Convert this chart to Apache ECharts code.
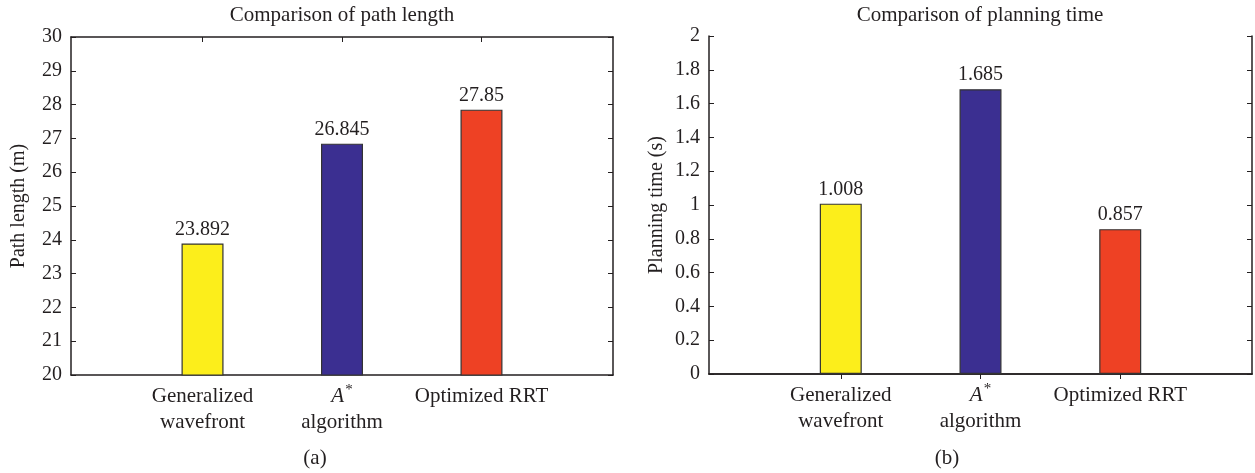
<!DOCTYPE html>
<html>
<head>
<meta charset="utf-8">
<script src="https://cdn.jsdelivr.net/npm/echarts@6/dist/echarts.min.js"></script>
<style>
  html, body { margin: 0; padding: 0; background: #fff; }
  #chart { width: 1255px; height: 473px; }
</style>
</head>
<body>
<div id="chart"></div>
<script>
// data
const categories = ['Generalized\nwavefront', 'A*\nalgorithm', 'Optimized RRT'];
const catPositions = [1, 2, 3];
const pathLength = [23.892, 26.845, 27.85];
const planningTime = [1.008, 1.685, 0.857];
const barColors = ['#fcee1b', '#3b2f91', '#ee4124'];

const FONT = '"Liberation Serif", "DejaVu Serif", serif';
const INK = '#231f20';
const xMin = 0.057, xMax = 3.943;

function catLabel(v) {
  const i = catPositions.indexOf(Math.round(v));
  if (i < 0) return '';
  const name = categories[i];
  if (name.indexOf('A*') === 0) {
    return '{it|A}{sup|*}\n{n|' + name.split('\n')[1] + '}';
  }
  return name.split('\n').map(s => '{n|' + s + '}').join('\n');
}

function barData(values) {
  return values.map((v, i) => ({
    value: [catPositions[i], v],
    itemStyle: { color: barColors[i] }
  }));
}

function xAxes(gridIndex) {
  return [
    {
      type: 'value', gridIndex, min: xMin, max: xMax, position: 'bottom',
      splitLine: { show: false },
      axisLine: { lineStyle: { color: INK, width: 1.5 } },
      axisTick: { inside: true, length: 5, customValues: catPositions, lineStyle: { color: INK } },
      axisLabel: {
        customValues: catPositions, formatter: catLabel, margin: 8,
        color: INK, fontFamily: FONT, fontSize: 21, lineHeight: 26,
        rich: {
          n: { color: INK, fontFamily: FONT, fontSize: 21, lineHeight: 26 },
          it: { color: INK, fontFamily: FONT, fontSize: 21, lineHeight: 26, fontStyle: 'italic' },
          sup: { color: INK, fontFamily: FONT, fontSize: 15, lineHeight: 26, verticalAlign: 'top', padding: [0, 0, 0, 1] }
        }
      }
    },
    {
      type: 'value', gridIndex, min: xMin, max: xMax, position: 'top',
      splitLine: { show: false },
      axisLine: { lineStyle: { color: INK, width: 1.5 } },
      axisTick: { inside: true, length: 5, customValues: catPositions, lineStyle: { color: INK } },
      axisLabel: { show: false }
    }
  ];
}

function yAxes(gridIndex, min, max, interval, name) {
  return [
    {
      type: 'value', gridIndex, min, max, interval, position: 'left',
      name, nameLocation: 'middle', nameGap: 42,
      nameTextStyle: { color: INK, fontFamily: FONT, fontSize: 20 },
      splitLine: { show: false },
      axisLine: { show: true, lineStyle: { color: INK, width: 1.5 } },
      axisTick: { inside: true, length: 5, lineStyle: { color: INK } },
      axisLabel: { color: INK, fontFamily: FONT, fontSize: 20, margin: 9 }
    },
    {
      type: 'value', gridIndex, min, max, interval, position: 'right',
      splitLine: { show: false },
      axisLine: { show: true, lineStyle: { color: INK, width: 1.5 } },
      axisTick: { inside: true, length: 5, lineStyle: { color: INK } },
      axisLabel: { show: false }
    }
  ];
}

function barSeries(idx, values) {
  return {
    type: 'bar',
    xAxisIndex: idx * 2,
    yAxisIndex: idx * 2,
    data: barData(values),
    barWidth: 42,
    itemStyle: { borderColor: '#333', borderWidth: 1.2 },
    label: {
      show: true, position: 'top', distance: 4,
      formatter: p => String(p.value[1]),
      color: INK, fontFamily: FONT, fontSize: 20
    },
    silent: true,
    animation: false
  };
}

const titleStyle = { color: INK, fontFamily: FONT, fontSize: 21, fontWeight: 'normal' };

const chart = echarts.init(document.getElementById('chart'));
chart.setOption({
  backgroundColor: '#fff',
  animation: false,
  title: [
    { text: 'Comparison of path length', left: 342, top: 5, textAlign: 'center', padding: 0, textStyle: titleStyle },
    { text: 'Comparison of planning time', left: 980, top: 5, textAlign: 'center', padding: 0, textStyle: titleStyle },
    { text: '(a)', left: 315, top: 448, textAlign: 'center', padding: 0, textStyle: titleStyle },
    { text: '(b)', left: 947, top: 448, textAlign: 'center', padding: 0, textStyle: titleStyle }
  ],
  grid: [
    { left: 71, top: 37, width: 542, height: 338 },
    { left: 709, top: 36, width: 543, height: 338 }
  ],
  xAxis: [...xAxes(0), ...xAxes(1)],
  yAxis: [
    ...yAxes(0, 20, 30, 1, 'Path length (m)'),
    ...yAxes(1, 0, 2, 0.2, 'Planning time (s)')
  ],
  series: [barSeries(0, pathLength), barSeries(1, planningTime)]
});
</script>
</body>
</html>
